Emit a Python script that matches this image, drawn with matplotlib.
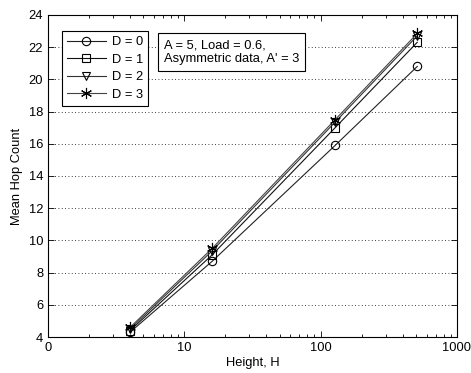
import matplotlib
matplotlib.use("Agg")
import matplotlib.pyplot as plt
from matplotlib.ticker import FixedLocator, NullFormatter

plt.rcParams['font.family'] = ['Liberation Sans', 'DejaVu Sans']

heights = [4, 16, 128, 512]
d0 = [4.3, 8.7, 15.9, 20.8]
d1 = [4.4, 9.1, 17.0, 22.3]
d2 = [4.5, 9.35, 17.35, 22.7]
d3 = [4.6, 9.5, 17.5, 22.85]
labels = ['D = 0', 'D = 1', 'D = 2', 'D = 3']
markers = ['o', 's', 'v', (6, 2, 0)]
xtick_vals = [1, 10, 100, 1000]
xtick_labels = ['0', '10', '100', '1000']
ytick_vals = [4, 6, 8, 10, 12, 14, 16, 18, 20, 22, 24]

FS = 9.3

fig = plt.figure(figsize=(4.71, 3.73), dpi=100)
ax = fig.add_axes([0.102, 0.0965, 0.868, 0.8635])

colors = ['#222222', '#111111', '#333333', '#444444']
for y, lab, m, c in zip([d0, d1, d2, d3], labels, markers, colors):
    ax.plot(heights, y, color=c, linewidth=0.8, marker=m, markersize=6 if m != (6, 2, 0) else 8,
            markerfacecolor='none', markeredgecolor='black', markeredgewidth=0.8, label=lab)

ax.set_xscale('log')
ax.set_xlim(1, 1000)
ax.set_ylim(4, 24)
ax.xaxis.set_major_locator(FixedLocator(xtick_vals))
ax.set_xticklabels(xtick_labels)
minors = [k * 10 ** e for e in range(0, 3) for k in range(2, 10)]
ax.xaxis.set_minor_locator(FixedLocator(minors))
ax.xaxis.set_minor_formatter(NullFormatter())
ax.set_yticks(ytick_vals)
ax.tick_params(which='both', direction='in', top=True, right=True, labelsize=FS, length=4, width=0.6)
ax.tick_params(which='minor', length=2.5)
ax.yaxis.grid(True, linestyle=(0, (1, 3)), color='black', linewidth=0.6)
for s in ax.spines.values():
    s.set_linewidth(0.8)

ax.set_xlabel('Height, H', fontsize=FS, labelpad=2)
ax.set_ylabel('Mean Hop Count', fontsize=FS, labelpad=4)

leg = ax.legend(loc='upper left', bbox_to_anchor=(0.034, 0.95), fontsize=FS, frameon=True,
                fancybox=False, edgecolor='black', framealpha=1, handlelength=3.0,
                handletextpad=0.45, labelspacing=0.42, borderpad=0.4, borderaxespad=0)
leg.get_frame().set_linewidth(0.8)

ax.text(0.283, 0.925, "A = 5, Load = 0.6,\nAsymmetric data, A' = 3", transform=ax.transAxes,
        fontsize=FS, va='top', ha='left', linespacing=1.25,
        bbox=dict(boxstyle='square,pad=0.45', facecolor='white', edgecolor='black', linewidth=0.8))

fig.savefig('out.png', dpi=100)
